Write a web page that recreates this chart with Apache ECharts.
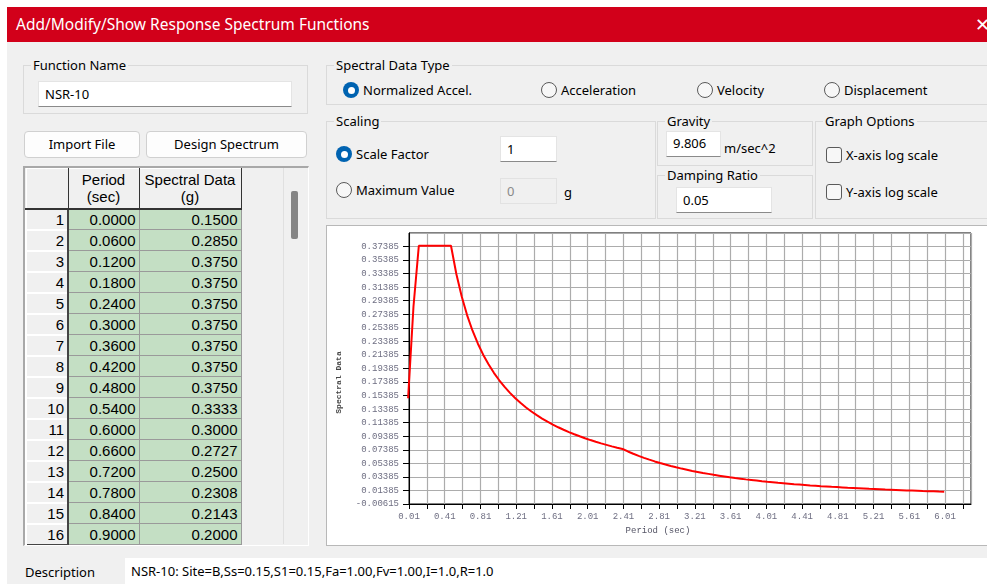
<!DOCTYPE html>
<html>
<head>
<meta charset="utf-8">
<script src="https://cdn.jsdelivr.net/npm/echarts@6/dist/echarts.min.js"></script>
<style>
html,body{margin:0;padding:0;width:987px;height:584px;overflow:hidden;background:#fff;font-family:"Noto Sans","Open Sans",sans-serif;font-size:13px;color:#000;}
.abs{position:absolute;}
#dlg{position:absolute;left:7px;top:42px;width:980px;height:542px;background:#f0f0f0;}
#title{position:absolute;left:7px;top:7px;width:980px;height:35px;background:#d2001a;color:#fff;font-size:15.5px;line-height:34px;}
.grp{position:absolute;border:1px solid #dadada;box-sizing:border-box;}
.glab{position:absolute;background:#f0f0f0;padding:0 2px;line-height:16px;white-space:nowrap;}
.inp{position:absolute;background:#fff;border:1px solid #e4e4e4;border-bottom:1px solid #8a8a8a;box-sizing:border-box;padding-left:6px;line-height:24px;white-space:nowrap;}
.radio{position:absolute;width:16px;height:16px;border-radius:50%;box-sizing:border-box;border:1px solid #5a5a5a;background:#f7f7f7;}
.radio.on{background:#0063b1;border:none;}
.radio.on::after{content:"";position:absolute;left:4.5px;top:4.5px;width:7px;height:7px;border-radius:50%;background:#fff;}
.chk{position:absolute;width:16px;height:16px;border-radius:3px;box-sizing:border-box;border:1px solid #5a5a5a;background:#f7f7f7;}
.txt{position:absolute;white-space:nowrap;line-height:16px;}
.btn{position:absolute;background:#fdfdfd;border:1px solid #d0d0d0;border-radius:4px;box-sizing:border-box;text-align:center;line-height:25px;}
#tbl{position:absolute;left:25px;top:168px;border-collapse:collapse;font-family:"Liberation Sans",Arial,sans-serif;font-size:15px;}
#tbl td,#tbl th{padding:0;box-sizing:border-box;}
#tbl th{background:#f0f0f0;font-weight:normal;height:40px;line-height:17px;border-right:1px solid #333;border-bottom:2px solid #333;border-left:1px solid #fff;border-top:1px solid #fff;}
#tbl td{height:21px;line-height:19px;}
#tbl td.rh{width:42px;text-align:right;padding-right:3px;background:#f0f0f0;border-top:2px solid #fff;border-left:2px solid #fff;border-right:2px solid #444;border-bottom:1px solid #444;}
#tbl td.c1{width:71px;text-align:right;padding-right:3px;background:#c4dfc4;border:1px solid #9a9a9a;}
#tbl td.c2{width:102px;text-align:right;padding-right:3px;background:#c4dfc4;border:1px solid #9a9a9a;}
#chartbox{position:absolute;left:326px;top:225px;width:662px;height:321px;background:#fff;border:1px solid #b8b8b8;box-sizing:border-box;}
#chart{position:absolute;left:0;top:0;width:660px;height:319px;}
</style>
</head>
<body>
<div id="title"><span style="position:absolute;left:9px;">Add/Modify/Show Response Spectrum Functions</span><span style="position:absolute;left:968px;font-size:18px;">✕</span></div>
<div id="dlg"></div>

<!-- Function Name -->
<div class="grp" style="left:23px;top:65px;width:285px;height:49px;"></div>
<div class="glab" style="left:31px;top:57px;">Function Name</div>
<div class="inp" style="left:38px;top:81px;width:254px;height:26px;">NSR-10</div>

<!-- Spectral Data Type -->
<div class="grp" style="left:326px;top:65px;width:670px;height:40px;"></div>
<div class="glab" style="left:334px;top:57px;">Spectral Data Type</div>
<div class="radio on" style="left:343px;top:82px;"></div><div class="txt" style="left:363px;top:82px;">Normalized Accel.</div>
<div class="radio" style="left:541px;top:82px;"></div><div class="txt" style="left:561px;top:82px;">Acceleration</div>
<div class="radio" style="left:697px;top:82px;"></div><div class="txt" style="left:717px;top:82px;">Velocity</div>
<div class="radio" style="left:824px;top:82px;"></div><div class="txt" style="left:844px;top:82px;">Displacement</div>

<!-- Scaling -->
<div class="grp" style="left:326px;top:121px;width:330px;height:98px;"></div>
<div class="glab" style="left:334px;top:113px;">Scaling</div>
<div class="radio on" style="left:336px;top:146px;"></div><div class="txt" style="left:356px;top:146px;">Scale Factor</div>
<div class="inp" style="left:500px;top:136px;width:57px;height:26px;">1</div>
<div class="radio" style="left:336px;top:182px;"></div><div class="txt" style="left:356px;top:182px;">Maximum Value</div>
<div class="inp" style="left:500px;top:178px;width:57px;height:26px;background:#f0f0f0;border:1px solid #e2e2e2;color:#8a8a8a;">0</div>
<div class="txt" style="left:564px;top:184px;">g</div>

<!-- Gravity -->
<div class="grp" style="left:657px;top:121px;width:156px;height:45px;"></div>
<div class="glab" style="left:665px;top:113px;">Gravity</div>
<div class="inp" style="left:666px;top:131px;width:55px;height:26px;line-height:22px;">9.806</div>
<div class="txt" style="left:724px;top:140px;">m/sec^2</div>

<!-- Damping Ratio -->
<div class="grp" style="left:657px;top:175px;width:156px;height:44px;"></div>
<div class="glab" style="left:665px;top:167px;">Damping Ratio</div>
<div class="inp" style="left:676px;top:187px;width:96px;height:26px;">0.05</div>

<!-- Graph Options -->
<div class="grp" style="left:815px;top:121px;width:180px;height:98px;"></div>
<div class="glab" style="left:823px;top:113px;">Graph Options</div>
<div class="chk" style="left:826px;top:147px;"></div><div class="txt" style="left:846px;top:147px;">X-axis log scale</div>
<div class="chk" style="left:826px;top:184px;"></div><div class="txt" style="left:846px;top:184px;">Y-axis log scale</div>

<!-- Buttons -->
<div class="btn" style="left:24px;top:131px;width:116px;height:27px;">Import File</div>
<div class="btn" style="left:146px;top:131px;width:161px;height:27px;">Design Spectrum</div>

<!-- Table frame -->
<div class="abs" style="left:23px;top:166px;width:286px;height:380px;border-top:2px solid #a8a8a8;border-left:2px solid #a8a8a8;border-right:1px solid #fff;border-bottom:1px solid #fff;box-sizing:border-box;"></div>
<div class="abs" style="left:283px;top:168px;width:24px;height:376px;background:#f0f0f0;border-left:1px solid #e0e0e0;"></div>
<div class="abs" style="left:291px;top:191px;width:7px;height:48px;background:#858585;border-radius:2px;"></div>
<table id="tbl"><thead><tr><th style="width:42px;"></th><th style="width:71px;">Period<br>(sec)</th><th style="width:102px;">Spectral Data<br>(g)</th></tr></thead><tbody id="tb"></tbody></table>

<!-- Chart -->
<div id="chartbox"><div id="chart"></div></div>

<!-- Description -->
<div class="txt" style="left:25px;top:564px;">Description</div>
<div class="abs" style="left:125px;top:558px;width:862px;height:28px;background:#fff;"></div>
<div class="txt" style="left:131px;top:563px;">NSR-10: Site=B,Ss=0.15,S1=0.15,Fa=1.00,Fv=1.00,I=1.0,R=1.0</div>

<script>
// ---- Data (period in sec, spectral acceleration in g) ----
var periods = [0.00,0.06,0.12,0.18,0.24,0.30,0.36,0.42,0.48,0.54,0.60,0.66,0.72,0.78,0.84,0.90,0.96,1.02,1.08,1.14,
  1.20,1.26,1.32,1.38,1.44,1.50,1.56,1.62,1.68,1.74,1.80,1.86,1.92,1.98,2.04,2.10,2.16,2.22,2.28,2.34,
  2.40,2.46,2.52,2.58,2.64,2.70,2.76,2.82,2.88,2.94,3.00,3.06,3.12,3.18,3.24,3.30,3.36,3.42,3.48,3.54,
  3.60,3.66,3.72,3.78,3.84,3.90,3.96,4.02,4.08,4.14,4.20,4.26,4.32,4.38,4.44,4.50,4.56,4.62,4.68,4.74,
  4.80,4.86,4.92,4.98,5.04,5.10,5.16,5.22,5.28,5.34,5.40,5.46,5.52,5.58,5.64,5.70,5.76,5.82,5.88,5.94,6.00];
var spectral = [0.1500,0.2850,0.3750,0.3750,0.3750,0.3750,0.3750,0.3750,0.3750,0.3333,0.3000,0.2727,0.2500,0.2308,0.2143,0.2000,0.1875,0.1765,0.1667,0.1579,
  0.1500,0.1429,0.1364,0.1304,0.1250,0.1200,0.1154,0.1111,0.1071,0.1034,0.1000,0.0968,0.0938,0.0909,0.0882,0.0857,0.0833,0.0811,0.0789,0.0769,
  0.0750,0.0714,0.0680,0.0649,0.0620,0.0593,0.0567,0.0543,0.0521,0.0500,0.0480,0.0461,0.0444,0.0427,0.0412,0.0397,0.0383,0.0369,0.0357,0.0345,
  0.0333,0.0322,0.0312,0.0302,0.0293,0.0284,0.0275,0.0267,0.0260,0.0252,0.0245,0.0238,0.0231,0.0225,0.0219,0.0213,0.0208,0.0202,0.0197,0.0192,
  0.0188,0.0183,0.0178,0.0174,0.0170,0.0166,0.0162,0.0159,0.0155,0.0151,0.0148,0.0145,0.0142,0.0139,0.0136,0.0133,0.0130,0.0128,0.0125,0.0122,0.0120];
var visibleRows = 16;
var xAxisName = 'Period (sec)';
var yAxisName = 'Spectral Data';
var xMin = 0.01, xMax = 6.30, xStep = 0.2;
var yMin = -0.00615, yMax = 0.39385, yStep = 0.02;

// ---- Table ----
var tb = document.getElementById('tb');
var html = '';
for (var i = 0; i < visibleRows; i++) {
  html += '<tr><td class="rh">' + (i + 1) + '</td><td class="c1">' + periods[i].toFixed(4) +
          '</td><td class="c2">' + spectral[i].toFixed(4) + '</td></tr>';
}
tb.innerHTML = html;

// ---- Chart ----
var seriesData = periods.map(function (p, i) { return [p, spectral[i]]; });
var chart = echarts.init(document.getElementById('chart'), null, {renderer: 'canvas'});
var labelStyle = {fontFamily: '"Liberation Mono","DejaVu Sans Mono",monospace', fontSize: 9, color: '#6e6e82'};
chart.setOption({
  animation: false,
  grid: {left: 80, top: 7, right: 16, bottom: 41, show: true, borderColor: '#000', borderWidth: 1, backgroundColor: 'transparent'},
  xAxis: {
    type: 'value', min: xMin, max: xMax, interval: xStep,
    name: xAxisName, nameLocation: 'middle', nameGap: 18,
    nameTextStyle: {fontFamily: labelStyle.fontFamily, fontSize: 9, color: '#555566', padding: [0, 64, 0, 0]},
    axisLine: {onZero: false, lineStyle: {color: '#000', width: 1}},
    axisTick: {show: true, inside: false, length: 5, lineStyle: {color: '#000'}},
    axisLabel: Object.assign({margin: 8, showMaxLabel: false, formatter: function (v) {
      var k = (v - xMin) / xStep, r = Math.round(k);
      if (Math.abs(k - r) > 0.05 || r % 2 !== 0) return '';
      return (xMin + r * xStep).toFixed(2);
    }}, labelStyle),
    splitLine: {show: true, lineStyle: {color: '#acacac', width: 1.2}}
  },
  yAxis: {
    type: 'value', min: yMin, max: yMax, interval: yStep,
    name: yAxisName, nameLocation: 'middle', nameGap: 66, nameRotate: 90,
    nameTextStyle: {fontFamily: labelStyle.fontFamily, fontSize: 8, fontWeight: 'bold', color: '#444', padding: [0, 28, 0, 0]},
    axisLine: {onZero: false, lineStyle: {color: '#000', width: 1}},
    axisTick: {show: true, inside: false, length: 6, lineStyle: {color: '#000'}},
    axisLabel: Object.assign({margin: 10, showMaxLabel: false, formatter: function (v) {
      var r = Math.round((v - yMin) / yStep);
      return (yMin + r * yStep).toFixed(5);
    }}, labelStyle),
    splitLine: {show: true, lineStyle: {color: '#acacac', width: 1.2}}
  },
  series: [{
    type: 'line', data: seriesData, showSymbol: false, clip: true,
    lineStyle: {color: '#ff0000', width: 2}, itemStyle: {color: '#ff0000'}
  }]
});
</script>
</body>
</html>
